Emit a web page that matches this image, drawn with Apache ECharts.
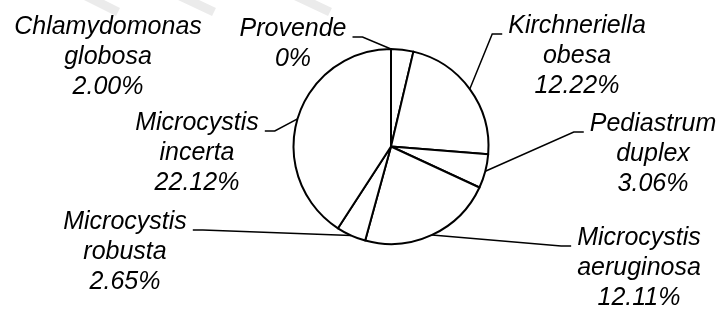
<!DOCTYPE html>
<html>
<head>
<meta charset="utf-8">
<script src="https://cdn.jsdelivr.net/npm/echarts@6/dist/echarts.min.js"></script>
<style>
  html, body { margin: 0; padding: 0; background: #fff; }
  #main { width: 723px; height: 312px; }
</style>
</head>
<body>
<div id="main"></div>
<script>
// slices, clockwise from 12 o'clock
var names = ['Provende', 'Chlamydomonas\nglobosa', 'Kirchneriella\nobesa', 'Pediastrum\nduplex',
  'Microcystis\naeruginosa', 'Microcystis\nrobusta', 'Microcystis\nincerta']
var values = [0, 2.00, 12.22, 3.06, 12.11, 2.65, 22.12]

// label block centres and the side the leader line comes in from (layout only)
var labelPos = [
  [293, 44, 'right'],
  [108, 57, null],
  [577, 56, 'left'],
  [653, 154, 'left'],
  [639, 268, 'left'],
  [125, 252, 'right'],
  [197, 153, 'right']
]

var myChart = echarts.init(document.getElementById('main'))

var option = {
  animation: false,
  // faint watermark strokes along the top edge
  graphic: [
    { type: 'line', shape: { x1: 86, y1: -4, x2: 118, y2: 12 }, style: { stroke: '#ebebeb', lineWidth: 9 }, silent: true },
    { type: 'line', shape: { x1: 180, y1: -4, x2: 214, y2: 12 }, style: { stroke: '#ebebeb', lineWidth: 9 }, silent: true },
    { type: 'line', shape: { x1: 296, y1: -4, x2: 330, y2: 12 }, style: { stroke: '#ebebeb', lineWidth: 9 }, silent: true }
  ],
  series: [
    {
      type: 'pie',
      center: [391, 146.5],
      radius: 97.5,
      startAngle: 90,
      clockwise: true,
      avoidLabelOverlap: false,
      emphasis: { disabled: true },
      itemStyle: {
        color: '#fff',
        borderColor: '#000',
        borderWidth: 2
      },
      label: {
        show: true,
        position: 'outside',
        color: '#000',
        fontFamily: 'Liberation Sans, Arial, sans-serif',
        fontStyle: 'italic',
        fontSize: 25,
        lineHeight: 30,
        align: 'center',
        formatter: function (p) {
          var v = values[p.dataIndex]
          return names[p.dataIndex] + '\n' + (v === 0 ? '0%' : v.toFixed(2) + '%')
        }
      },
      labelLine: {
        show: true,
        length: 10,
        length2: 10,
        lineStyle: { color: '#000', width: 1.5 }
      },
      labelLayout: function (p) {
        var pos = labelPos[p.dataIndex]
        var w = p.labelRect.width
        var h = p.labelRect.height
        var out = { x: pos[0], y: pos[1], align: 'center', verticalAlign: 'middle' }
        if (pos[2] && p.labelLinePoints) {
          var edge = p.labelLinePoints[0]
          var ey = pos[1] - h / 2 + 23
          var ex = pos[2] === 'left' ? pos[0] - w / 2 - 6 : pos[0] + w / 2 + 6
          var bx = pos[2] === 'left' ? ex - 10 : ex + 10
          out.labelLinePoints = [edge, [bx, ey], [ex, ey]]
        }
        return out
      },
      data: names.map(function (n, i) {
        var item = { name: n, value: values[i] }
        if (!labelPos[i][2]) item.labelLine = { show: false }
        return item
      })
    }
  ]
}

myChart.setOption(option)
</script>
</body>
</html>
